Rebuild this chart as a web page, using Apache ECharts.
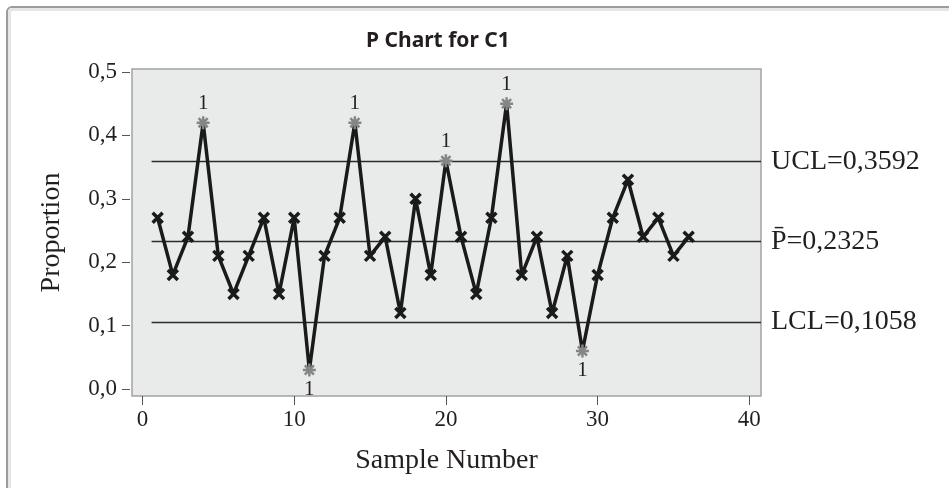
<!DOCTYPE html>
<html>
<head>
<meta charset="utf-8">
<script src="https://cdn.jsdelivr.net/npm/echarts@6/dist/echarts.min.js"></script>
<style>
  html, body { margin: 0; padding: 0; background: #fff; }
  #chart { width: 949px; height: 488px; }
</style>
</head>
<body>
<div id="chart"></div>
<script>
// proportion per sample (samples 1..36)
const samples = [1, 2, 3, 4, 5, 6, 7, 8, 9, 10, 11, 12, 13, 14, 15, 16, 17, 18,
  19, 20, 21, 22, 23, 24, 25, 26, 27, 28, 29, 30, 31, 32, 33, 34, 35, 36];
const proportions = [0.27, 0.18, 0.24, 0.42, 0.21, 0.15, 0.21, 0.27, 0.15, 0.27,
  0.03, 0.21, 0.27, 0.42, 0.21, 0.24, 0.12, 0.30, 0.18, 0.36,
  0.24, 0.15, 0.27, 0.45, 0.18, 0.24, 0.12, 0.21, 0.06, 0.18,
  0.27, 0.33, 0.24, 0.27, 0.21, 0.24];
const ucl = 0.3592;
const pbar = 0.2325;
const lcl = 0.1058;
const xTicks = [0, 10, 20, 30, 40];
const yTicks = [0, 0.1, 0.2, 0.3, 0.4, 0.5];

const serif = '"Liberation Serif", "DejaVu Serif", serif';
const textColor = '#231f20';
const fmt4 = v => v.toFixed(4).replace('.', ',');

const crossSym = 'path://M0,0L10,10M10,0L0,10';
const starSym = 'path://M5,0L5,10M0,5L10,5M1.5,1.5L8.5,8.5M8.5,1.5L1.5,8.5';

const points = samples.map((s, i) => {
  const v = proportions[i];
  const out = v > ucl || v < lcl;
  if (!out) return [s, v];
  return {
    value: [s, v],
    symbol: starSym,
    symbolSize: 13,
    itemStyle: { color: '#858585', borderColor: '#858585', borderWidth: 2.5 },
    label: {
      show: true,
      formatter: '1',
      position: v > ucl ? 'top' : 'bottom',
      distance: 1,
      fontFamily: serif,
      fontSize: 21,
      color: textColor
    }
  };
});

const limitLine = (v, text) => [
  { coord: [0.6, v], label: { formatter: text } },
  { coord: [40.77, v] }
];

let chart = echarts.init(document.getElementById('chart'));
let option = {
  backgroundColor: '#fff',
  animation: false,
  graphic: [
    {
      type: 'rect', silent: true,
      shape: { x: 7, y: 7, width: 1000, height: 1000, r: 5 },
      style: { fill: 'none', stroke: '#9c9c9c', lineWidth: 2 }
    },
    {
      type: 'rect', silent: true,
      shape: { x: 9.5, y: 9.5, width: 1000, height: 1000, r: 3 },
      style: { fill: 'none', stroke: '#e6e6e6', lineWidth: 3 }
    }
  ],
  title: {
    text: 'P Chart for C1',
    left: 361,
    top: 26,
    textStyle: {
      fontFamily: '"Noto Sans", "Open Sans", sans-serif',
      fontWeight: 'bold',
      fontSize: 21,
      color: textColor
    }
  },
  grid: {
    left: 132, top: 69, right: 188, bottom: 92,
    show: true,
    backgroundColor: '#e9eaea',
    borderColor: '#a3a3a3',
    borderWidth: 1.5
  },
  xAxis: {
    type: 'value',
    min: -0.69,
    max: 40.77,
    name: 'Sample Number',
    nameLocation: 'middle',
    nameGap: 51,
    nameTextStyle: { fontFamily: serif, fontSize: 28, color: textColor },
    axisLine: { show: false, onZero: false },
    axisTick: { show: true, length: 9, customValues: xTicks, lineStyle: { color: '#555', width: 1 } },
    axisLabel: {
      customValues: xTicks,
      margin: 12,
      fontFamily: serif,
      fontSize: 23,
      color: textColor
    },
    splitLine: { show: false }
  },
  yAxis: {
    type: 'value',
    min: -0.011,
    max: 0.5047,
    name: 'Proportion',
    nameLocation: 'middle',
    nameGap: 64,
    nameTextStyle: { fontFamily: serif, fontSize: 28, color: textColor },
    offset: 2,
    axisLine: { show: false, onZero: false },
    axisTick: { show: true, length: 8, customValues: yTicks, lineStyle: { color: '#555', width: 1 } },
    axisLabel: {
      customValues: yTicks,
      margin: 13,
      fontFamily: serif,
      fontSize: 23,
      color: textColor,
      formatter: v => v.toFixed(1).replace('.', ',')
    },
    splitLine: { show: false }
  },
  series: [{
    type: 'line',
    data: points,
    symbol: crossSym,
    symbolSize: 10,
    itemStyle: { color: '#1a1a1a', borderColor: '#1a1a1a', borderWidth: 3.5 },
    lineStyle: { color: '#1a1a1a', width: 3.5 },
    z: 3,
    markLine: {
      silent: true,
      symbol: 'none',
      z: 2,
      lineStyle: { color: '#2a2a2a', width: 1.3, type: 'solid' },
      label: {
        position: 'end',
        distance: 10,
        fontFamily: serif,
        fontSize: 28,
        color: textColor
      },
      data: [
        limitLine(ucl, 'UCL=' + fmt4(ucl)),
        limitLine(pbar, 'P\u0304=' + fmt4(pbar)),
        limitLine(lcl, 'LCL=' + fmt4(lcl))
      ]
    }
  }]
};
chart.setOption(option);
window.addEventListener('resize', function () {
  chart.resize();
});
</script>
</body>
</html>
